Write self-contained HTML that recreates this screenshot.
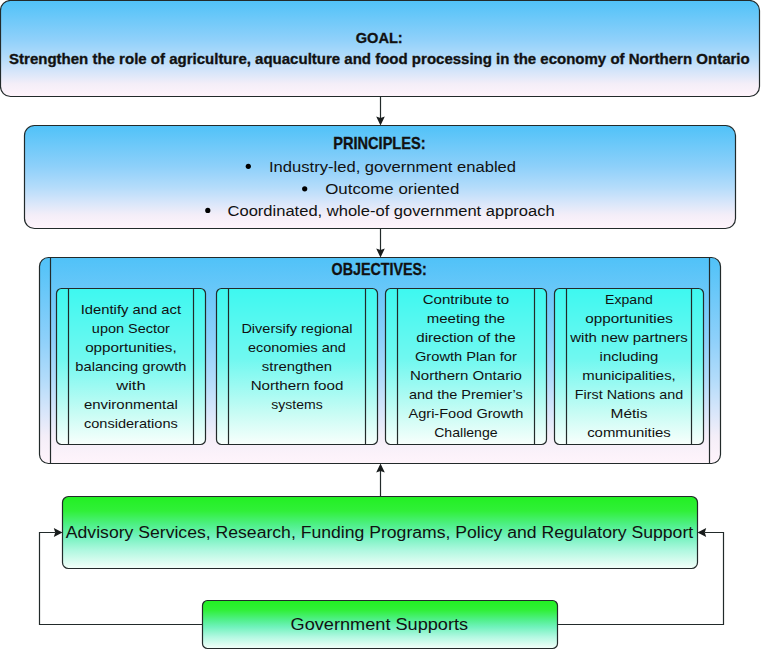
<!DOCTYPE html>
<html><head><meta charset="utf-8"><style>
html,body{margin:0;padding:0;background:#fff;width:762px;height:651px;overflow:hidden}
svg{display:block}
text{font-family:"Liberation Sans",sans-serif;fill:#111}
</style></head><body>
<svg width="762" height="651" viewBox="0 0 762 651">
<defs>
<linearGradient id="gb" x1="0" y1="0" x2="0" y2="1">
<stop offset="0" stop-color="#50c2f8"/>
<stop offset="0.4" stop-color="#8ed0fa"/>
<stop offset="0.6" stop-color="#b4dcfa"/>
<stop offset="0.75" stop-color="#d8e6fa"/>
<stop offset="0.87" stop-color="#f4eef8"/>
<stop offset="1" stop-color="#fff4fb"/>
</linearGradient>
<linearGradient id="ga" x1="0" y1="0" x2="0" y2="1">
<stop offset="0" stop-color="#3ef8f0"/>
<stop offset="0.45" stop-color="#70f8f0"/>
<stop offset="0.8" stop-color="#c8fcf4"/>
<stop offset="1" stop-color="#f8fffc"/>
</linearGradient>
<linearGradient id="gg" x1="0" y1="0" x2="0" y2="1">
<stop offset="0" stop-color="#22f022"/>
<stop offset="0.2" stop-color="#30f038"/>
<stop offset="0.4" stop-color="#50f08a"/>
<stop offset="0.55" stop-color="#70f2bc"/>
<stop offset="0.75" stop-color="#b0f8e0"/>
<stop offset="1" stop-color="#f4fffa"/>
</linearGradient>
</defs>
<rect x="0.5" y="0.5" width="759" height="96" rx="10" ry="10" fill="url(#gb)" stroke="#222a2a" stroke-width="1.2"/>
<line x1="380.5" y1="97" x2="380.5" y2="118" stroke="#222a2a" stroke-width="1.2"/>
<polygon points="376.2,116.6 380.5,118 384.8,116.6 380.5,125.5" fill="#181c1c"/>
<rect x="24.5" y="125.5" width="711" height="103" rx="10" ry="10" fill="url(#gb)" stroke="#222a2a" stroke-width="1.2"/>
<line x1="380.5" y1="229" x2="380.5" y2="250" stroke="#222a2a" stroke-width="1.2"/>
<polygon points="376.2,248.6 380.5,250 384.8,248.6 380.5,257.5" fill="#181c1c"/>
<rect x="39.5" y="257.5" width="681" height="206" rx="9" ry="9" fill="url(#gb)" stroke="#222a2a" stroke-width="1.2"/>
<line x1="50.5" y1="257.5" x2="50.5" y2="463.5" stroke="#222a2a" stroke-width="1.2"/>
<line x1="709.5" y1="257.5" x2="709.5" y2="463.5" stroke="#222a2a" stroke-width="1.2"/>
<rect x="56.5" y="288.5" width="149" height="156" rx="5" ry="5" fill="url(#ga)" stroke="#222a2a" stroke-width="1.2"/>
<line x1="68.5" y1="288.5" x2="68.5" y2="444.5" stroke="#222a2a" stroke-width="1.2"/>
<line x1="193.5" y1="288.5" x2="193.5" y2="444.5" stroke="#222a2a" stroke-width="1.2"/>
<rect x="216.5" y="288.5" width="161" height="156" rx="5" ry="5" fill="url(#ga)" stroke="#222a2a" stroke-width="1.2"/>
<line x1="228.5" y1="288.5" x2="228.5" y2="444.5" stroke="#222a2a" stroke-width="1.2"/>
<line x1="365.5" y1="288.5" x2="365.5" y2="444.5" stroke="#222a2a" stroke-width="1.2"/>
<rect x="385.5" y="288.5" width="161" height="156" rx="5" ry="5" fill="url(#ga)" stroke="#222a2a" stroke-width="1.2"/>
<line x1="397.5" y1="288.5" x2="397.5" y2="444.5" stroke="#222a2a" stroke-width="1.2"/>
<line x1="534.5" y1="288.5" x2="534.5" y2="444.5" stroke="#222a2a" stroke-width="1.2"/>
<rect x="554.5" y="288.5" width="149" height="156" rx="5" ry="5" fill="url(#ga)" stroke="#222a2a" stroke-width="1.2"/>
<line x1="566.5" y1="288.5" x2="566.5" y2="444.5" stroke="#222a2a" stroke-width="1.2"/>
<line x1="691.5" y1="288.5" x2="691.5" y2="444.5" stroke="#222a2a" stroke-width="1.2"/>
<line x1="380.5" y1="496" x2="380.5" y2="471" stroke="#222a2a" stroke-width="1.2"/>
<polygon points="376.2,472.4 380.5,471 384.8,472.4 380.5,463.5" fill="#181c1c"/>
<rect x="62.5" y="496.5" width="635" height="72" rx="6" ry="6" fill="url(#gg)" stroke="#222a2a" stroke-width="1.2"/>
<rect x="202.5" y="600.5" width="355" height="48" rx="5" ry="5" fill="url(#gg)" stroke="#222a2a" stroke-width="1.2"/>
<polyline points="202.5,624.5 39.5,624.5 39.5,532.5 55,532.5" fill="none" stroke="#222a2a" stroke-width="1.2"/>
<polygon points="53.8,528 55.2,532.5 53.8,537 62.5,532.5" fill="#181c1c"/>
<polyline points="557.5,624.5 723.5,624.5 723.5,532.5 705,532.5" fill="none" stroke="#222a2a" stroke-width="1.2"/>
<polygon points="706.2,528 704.8,532.5 706.2,537 697.5,532.5" fill="#181c1c"/>
<circle cx="248.3" cy="166.3" r="2.6" fill="#000"/>
<circle cx="304.7" cy="188.8" r="2.6" fill="#000"/>
<circle cx="207.8" cy="210.4" r="2.6" fill="#000"/>
<g>
<text x="379.20" y="42.60" font-size="15.39" font-weight="bold" stroke="#111" stroke-width="0.3" text-anchor="middle" textLength="47.04" lengthAdjust="spacingAndGlyphs">GOAL:</text>
<text x="379.35" y="64.00" font-size="14.19" font-weight="bold" stroke="#111" stroke-width="0.3" text-anchor="middle" textLength="740.63" lengthAdjust="spacingAndGlyphs">Strengthen the role of agriculture, aquaculture and food processing in the economy of Northern Ontario</text>
<text x="379.40" y="148.70" font-size="16.20" font-weight="bold" stroke="#111" stroke-width="0.3" text-anchor="middle" textLength="92.47" lengthAdjust="spacingAndGlyphs">PRINCIPLES:</text>
<text x="269.00" y="171.50" font-size="14.69" font-weight="normal" textLength="247.03" lengthAdjust="spacingAndGlyphs">Industry-led, government enabled</text>
<text x="325.20" y="194.00" font-size="14.69" font-weight="normal" textLength="134.21" lengthAdjust="spacingAndGlyphs">Outcome oriented</text>
<text x="227.50" y="215.60" font-size="14.69" font-weight="normal" textLength="327.22" lengthAdjust="spacingAndGlyphs">Coordinated, whole-of government approach</text>
<text x="379.20" y="275.30" font-size="16.20" font-weight="bold" stroke="#111" stroke-width="0.3" text-anchor="middle" textLength="95.29" lengthAdjust="spacingAndGlyphs">OBJECTIVES:</text>
<text x="130.90" y="313.50" font-size="13.42" font-weight="normal" text-anchor="middle" textLength="100.37" lengthAdjust="spacingAndGlyphs">Identify and act</text>
<text x="130.90" y="332.55" font-size="13.42" font-weight="normal" text-anchor="middle" textLength="78.10" lengthAdjust="spacingAndGlyphs">upon Sector</text>
<text x="130.90" y="351.60" font-size="13.42" font-weight="normal" text-anchor="middle" textLength="91.51" lengthAdjust="spacingAndGlyphs">opportunities,</text>
<text x="130.90" y="370.65" font-size="13.42" font-weight="normal" text-anchor="middle" textLength="111.16" lengthAdjust="spacingAndGlyphs">balancing growth</text>
<text x="130.90" y="389.70" font-size="13.42" font-weight="normal" text-anchor="middle" textLength="29.33" lengthAdjust="spacingAndGlyphs">with</text>
<text x="130.90" y="408.75" font-size="13.42" font-weight="normal" text-anchor="middle" textLength="93.89" lengthAdjust="spacingAndGlyphs">environmental</text>
<text x="130.90" y="427.80" font-size="13.42" font-weight="normal" text-anchor="middle" textLength="93.78" lengthAdjust="spacingAndGlyphs">considerations</text>
<text x="297.00" y="333.20" font-size="13.42" font-weight="normal" text-anchor="middle" textLength="111.21" lengthAdjust="spacingAndGlyphs">Diversify regional</text>
<text x="297.00" y="352.25" font-size="13.42" font-weight="normal" text-anchor="middle" textLength="97.79" lengthAdjust="spacingAndGlyphs">economies and</text>
<text x="297.00" y="371.30" font-size="13.42" font-weight="normal" text-anchor="middle" textLength="70.27" lengthAdjust="spacingAndGlyphs">strengthen</text>
<text x="297.00" y="390.35" font-size="13.42" font-weight="normal" text-anchor="middle" textLength="92.75" lengthAdjust="spacingAndGlyphs">Northern food</text>
<text x="297.00" y="409.40" font-size="13.42" font-weight="normal" text-anchor="middle" textLength="51.37" lengthAdjust="spacingAndGlyphs">systems</text>
<text x="465.90" y="303.90" font-size="13.42" font-weight="normal" text-anchor="middle" textLength="86.42" lengthAdjust="spacingAndGlyphs">Contribute to</text>
<text x="465.90" y="322.95" font-size="13.42" font-weight="normal" text-anchor="middle" textLength="78.34" lengthAdjust="spacingAndGlyphs">meeting the</text>
<text x="465.90" y="342.00" font-size="13.42" font-weight="normal" text-anchor="middle" textLength="99.33" lengthAdjust="spacingAndGlyphs">direction of the</text>
<text x="465.90" y="361.05" font-size="13.42" font-weight="normal" text-anchor="middle" textLength="101.90" lengthAdjust="spacingAndGlyphs">Growth Plan for</text>
<text x="465.90" y="380.10" font-size="13.42" font-weight="normal" text-anchor="middle" textLength="111.92" lengthAdjust="spacingAndGlyphs">Northern Ontario</text>
<text x="465.90" y="399.15" font-size="13.42" font-weight="normal" text-anchor="middle" textLength="113.85" lengthAdjust="spacingAndGlyphs">and the Premier’s</text>
<text x="465.90" y="418.20" font-size="13.42" font-weight="normal" text-anchor="middle" textLength="114.82" lengthAdjust="spacingAndGlyphs">Agri-Food Growth</text>
<text x="465.90" y="437.25" font-size="13.42" font-weight="normal" text-anchor="middle" textLength="63.48" lengthAdjust="spacingAndGlyphs">Challenge</text>
<text x="629.00" y="303.90" font-size="13.42" font-weight="normal" text-anchor="middle" textLength="47.73" lengthAdjust="spacingAndGlyphs">Expand</text>
<text x="629.00" y="322.95" font-size="13.42" font-weight="normal" text-anchor="middle" textLength="87.59" lengthAdjust="spacingAndGlyphs">opportunities</text>
<text x="629.00" y="342.00" font-size="13.42" font-weight="normal" text-anchor="middle" textLength="117.55" lengthAdjust="spacingAndGlyphs">with new partners</text>
<text x="629.00" y="361.05" font-size="13.42" font-weight="normal" text-anchor="middle" textLength="58.83" lengthAdjust="spacingAndGlyphs">including</text>
<text x="629.00" y="380.10" font-size="13.42" font-weight="normal" text-anchor="middle" textLength="93.48" lengthAdjust="spacingAndGlyphs">municipalities,</text>
<text x="629.00" y="399.15" font-size="13.42" font-weight="normal" text-anchor="middle" textLength="108.29" lengthAdjust="spacingAndGlyphs">First Nations and</text>
<text x="629.00" y="418.20" font-size="13.42" font-weight="normal" text-anchor="middle" textLength="37.04" lengthAdjust="spacingAndGlyphs">Métis</text>
<text x="629.00" y="437.25" font-size="13.42" font-weight="normal" text-anchor="middle" textLength="83.67" lengthAdjust="spacingAndGlyphs">communities</text>
<text x="379.50" y="537.50" font-size="16.42" font-weight="normal" text-anchor="middle" textLength="627.33" lengthAdjust="spacingAndGlyphs">Advisory Services, Research, Funding Programs, Policy and Regulatory Support</text>
<text x="379.35" y="629.50" font-size="16.18" font-weight="normal" text-anchor="middle" textLength="177.58" lengthAdjust="spacingAndGlyphs">Government Supports</text>
</g>
</svg>
</body></html>
